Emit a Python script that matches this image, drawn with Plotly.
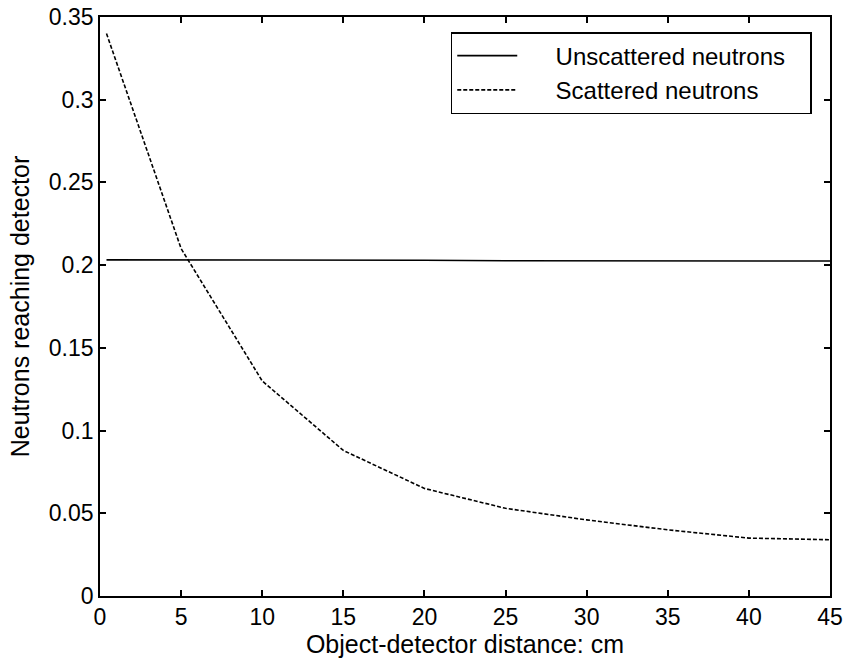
import plotly.graph_objects as go

x_unscat = [0.4, 5, 10, 15, 20, 25, 30, 35, 40, 45]
y_unscat = [0.2032, 0.2032, 0.2031, 0.2031, 0.2030, 0.2027, 0.2026, 0.2026, 0.2025, 0.2025]

x_scat = [0.4, 5, 10, 15, 20, 25, 30, 35, 40, 45]
y_scat = [0.340, 0.210, 0.130, 0.088, 0.065, 0.053, 0.046, 0.040, 0.035, 0.034]

font = "Liberation Sans, Arial, Helvetica, sans-serif"
pad = "\u00a0" * 5

fig = go.Figure()
fig.add_trace(go.Scatter(x=x_unscat, y=y_unscat, mode="lines", name=pad + "Unscattered neutrons\u00a0\u00a0\u00a0",
                         line=dict(color="black", width=1.6)))
fig.add_trace(go.Scatter(x=x_scat, y=y_scat, mode="lines", name=pad + "Scattered neutrons",
                         line=dict(color="black", width=1.6, dash="4px,2px")))

axis_common = dict(showline=True, linecolor="black", linewidth=1.6, mirror="ticks",
                   ticks="inside", ticklen=6, tickwidth=1.5, tickcolor="black",
                   showgrid=False, zeroline=False, automargin=False,
                   tickfont=dict(family=font, size=23, color="black"))

fig.update_layout(
    width=844, height=665,
    margin=dict(l=100, r=14, t=17, b=69),
    paper_bgcolor="white", plot_bgcolor="white",
    font=dict(family=font, size=23, color="black"),
    xaxis=dict(range=[0, 45], tickvals=[0, 5, 10, 15, 20, 25, 30, 35, 40, 45],
               title=dict(text="Object-detector distance: cm", font=dict(size=25), standoff=2),
               **axis_common),
    yaxis=dict(range=[0, 0.35], tickvals=[0, 0.05, 0.1, 0.15, 0.2, 0.25, 0.3, 0.35],
               ticktext=["0", "0.05", "0.1", "0.15", "0.2", "0.25", "0.3", "0.35"],
               title=dict(text="Neutrons reaching detector", font=dict(size=25), standoff=12),
               **axis_common),
    legend=dict(x=0.975, y=0.974, xanchor="right", yanchor="top",
                bordercolor="black", borderwidth=1.5, bgcolor="white",
                font=dict(family=font, size=24, color="black"),
                itemwidth=60, tracegroupgap=0),
    showlegend=True,
)

fig.write_html("out.html")
